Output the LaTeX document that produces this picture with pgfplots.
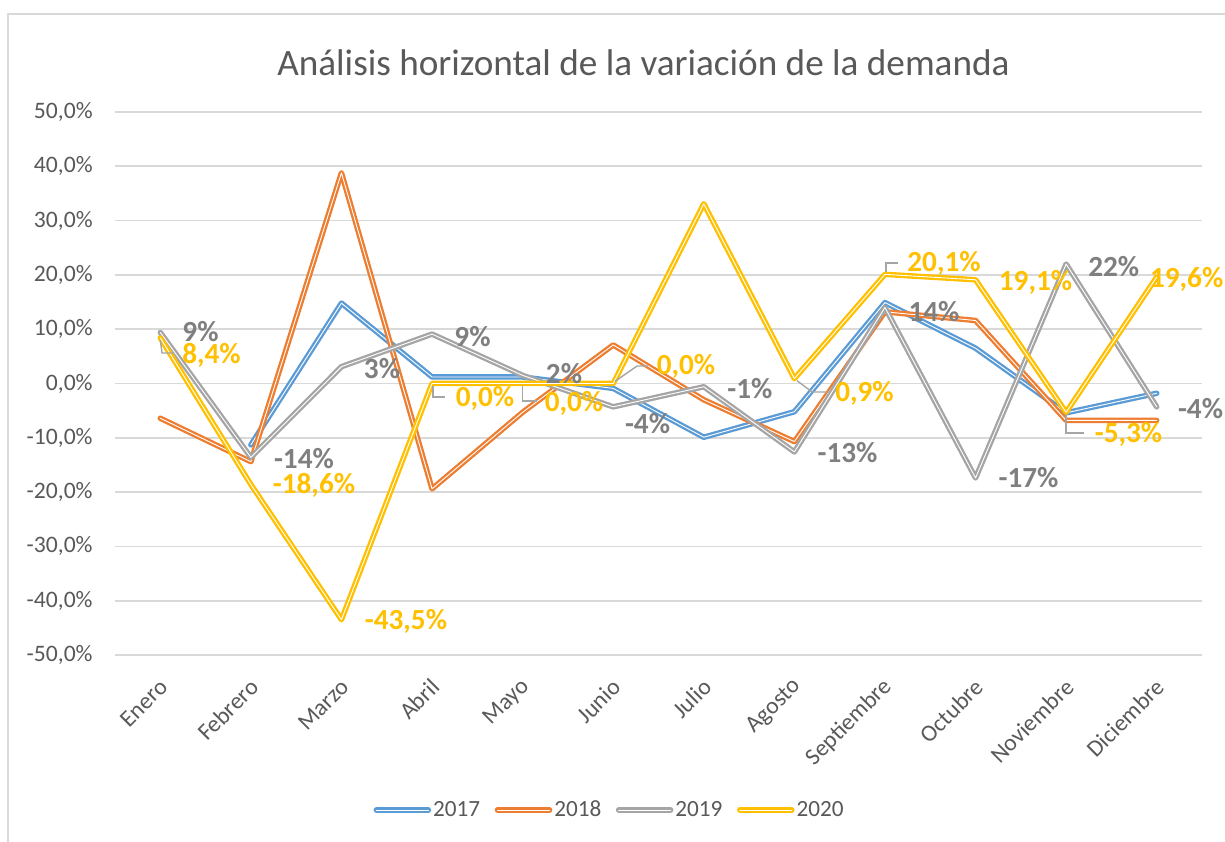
\documentclass[border=0pt]{standalone}
\usepackage{fontspec}
\setmainfont{Carlito}
\usepackage{pgfplots}
\pgfplotsset{compat=1.18}
\definecolor{c17}{HTML}{5B9BD5}
\definecolor{c18}{HTML}{ED7D31}
\definecolor{c19}{HTML}{A5A5A5}
\definecolor{c20}{HTML}{FFC000}
\definecolor{txtgray}{HTML}{595959}
\definecolor{lblgray}{HTML}{7F7F7F}
\definecolor{gridgray}{HTML}{D9D9D9}
\begin{document}
\begin{tikzpicture}[x=1pt,y=1pt]
\useasboundingbox (0,0) rectangle (612.5,420.5);
\fill[white] (0,0) rectangle (612.5,420.5);
\draw[gridgray, line width=0.8pt] (4,-2) -- (4,413.5) -- (615,413.5);
\node[anchor=base, font=\fontsize{18.6}{22}\selectfont, text=txtgray, inner sep=0pt] at (321.75,382.5) {Análisis horizontal de la variación de la demanda};
\begin{axis}[
  at={(57.5pt,93pt)}, anchor=south west,
  scale only axis, width=543.5pt, height=271.5pt,
  xmin=-0.5, xmax=11.5, ymin=-50, ymax=50,
  clip=false,
  axis line style={draw=none},
  tick style={draw=none},
  ymajorgrids, major grid style={gridgray, line width=0.8pt},
  xtick={0,...,11},
  xticklabels={Enero,Febrero,Marzo,Abril,Mayo,Junio,Julio,Agosto,Septiembre,Octubre,Noviembre,Diciembre},
  ytick={-50,-40,-30,-20,-10,0,10,20,30,40,50},
  yticklabels={{-50,0\%},{-40,0\%},{-30,0\%},{-20,0\%},{-10,0\%},{0,0\%},{10,0\%},{20,0\%},{30,0\%},{40,0\%},{50,0\%}},
  ticklabel style={font=\fontsize{11.8}{14}\selectfont, text=txtgray, inner sep=0pt},
  yticklabel style={anchor=east, xshift=-11pt},
  xticklabel style={xshift=1.85pt, yshift=-14pt, rotate=45, anchor=east},
  legend columns=4,
  legend style={at={(0.455,-0.2855)}, anchor=center, draw=none, fill=none,
    font=\fontsize{11.6}{14}\selectfont, text=txtgray,
    nodes={inner xsep=1pt},
    /tikz/every even column/.append style={column sep=6.3pt}},
  legend image code/.code={\draw[#1] (0pt,0pt) -- (26pt,0pt);},
  every axis plot/.append style={line width=1.15pt, double=white, double distance=0.45pt, line join=round, line cap=round},
]
\addplot[c17] coordinates {(1,-11.3) (2,14.8) (3,1.2) (4,1.2) (5,-0.9) (6,-9.9) (7,-5.2) (8,14.9) (9,6.5) (10,-5.4) (11,-1.8)};
\addlegendentry{2017}
\addplot[c18] coordinates {(0,-6.4) (1,-14.4) (2,38.8) (3,-19.4) (4,-5.3) (5,7.1) (6,-3.0) (7,-10.7) (8,13.2) (9,11.6) (10,-6.8) (11,-6.8)};
\addlegendentry{2018}
\addplot[c19] coordinates {(0,9.4) (1,-13.6) (2,3.1) (3,9.1) (4,1.5) (5,-4.3) (6,-0.6) (7,-12.6) (8,14.0) (9,-17.4) (10,22.0) (11,-4.3)};
\addlegendentry{2019}
\addplot[c20] coordinates {(0,8.4) (1,-18.6) (2,-43.5) (3,0.0) (4,0.0) (5,0.0) (6,33.1) (7,0.9) (8,20.1) (9,19.1) (10,-5.3) (11,19.6)};
\addlegendentry{2020}
% leader lines
\draw[c19, line width=0.7pt] (axis cs:0,8.0) -- (axis cs:0.019,5.62) -- (axis cs:0.140,5.62);
\draw[c19, line width=0.7pt] (axis cs:3.011,-0.5) -- (axis cs:3.011,-2.49) -- (axis cs:3.143,-2.49);
\draw[c19, line width=0.7pt] (axis cs:4,-0.5) -- (axis cs:4,-3.22) -- (axis cs:4.155,-3.22);
\draw[c19, line width=0.7pt] (axis cs:5.02,0.4) -- (axis cs:5.263,3.22) -- (axis cs:5.385,3.22);
\draw[c19, line width=0.7pt] (axis cs:7.03,0.5) -- (axis cs:7.198,-1.57) -- (axis cs:7.364,-1.57);
\draw[c19, line width=0.7pt] (axis cs:8.01,20.6) -- (axis cs:8.01,22.19) -- (axis cs:8.143,22.19);
\draw[c19, line width=0.7pt] (axis cs:10,-5.8) -- (axis cs:10,-9.12) -- (axis cs:10.2,-9.12);
% data labels
\tikzset{lbl/.style={font=\bfseries\fontsize{14.6}{16}\selectfont, inner sep=0pt, anchor=center}}
\node[lbl, text=lblgray] at (axis cs:0.444,9.58) {9\%};
\node[lbl, text=c20] at (axis cs:0.565,5.25) {8,4\%};
\node[lbl, text=lblgray] at (axis cs:1.586,-13.81) {-14\%};
\node[lbl, text=c20] at (axis cs:1.697,-18.78) {-18,6\%};
\node[lbl, text=lblgray] at (axis cs:2.448,2.67) {3\%};
\node[lbl, text=c20] at (axis cs:2.712,-43.74) {-43,5\%};
\node[lbl, text=lblgray] at (axis cs:3.447,8.66) {9\%};
\node[lbl, text=c20] at (axis cs:3.585,-2.67) {0,0\%};
\node[lbl, text=lblgray] at (axis cs:4.457,1.75) {2\%};
\node[lbl, text=c20] at (axis cs:4.567,-3.59) {0,0\%};
\node[lbl, text=lblgray] at (axis cs:5.379,-7.46) {-4\%};
\node[lbl, text=c20] at (axis cs:5.804,3.13) {0,0\%};
\node[lbl, text=lblgray] at (axis cs:6.510,-1.01) {-1\%};
\node[lbl, text=c20] at (axis cs:7.774,-1.84) {0,9\%};
\node[lbl, text=lblgray] at (axis cs:7.587,-12.71) {-13\%};
\node[lbl, text=c20] at (axis cs:8.652,22.10) {20,1\%};
\node[lbl, text=lblgray] at (axis cs:8.541,13.26) {14\%};
\node[lbl, text=c20] at (axis cs:9.662,18.69) {19,1\%};
\node[lbl, text=lblgray] at (axis cs:9.585,-17.31) {-17\%};
\node[lbl, text=lblgray] at (axis cs:10.525,21.45) {22\%};
\node[lbl, text=c20] at (axis cs:11.331,19.15) {19,6\%};
\node[lbl, text=c20] at (axis cs:10.689,-9.30) {-5,3\%};
\node[lbl, text=lblgray] at (axis cs:11.484,-4.60) {-4\%};
\end{axis}
\end{tikzpicture}
\end{document}
